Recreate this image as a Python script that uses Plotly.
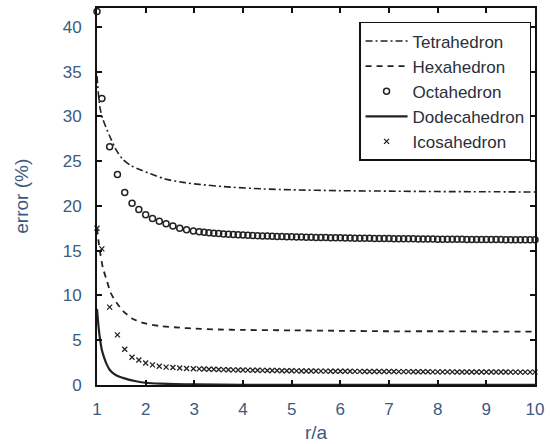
import plotly.graph_objects as go

# ---- data ----
tetra_x = [1.0, 1.06, 1.12, 1.26, 1.4, 1.53, 1.7, 1.9, 2.1, 2.4, 2.8, 3.1, 3.75, 4.4, 5, 6, 7, 8, 9, 10]
tetra_y = [34.5, 31.0, 29.7, 27.8, 26.2, 25.2, 24.5, 24.0, 23.6, 23.0, 22.6, 22.4, 22.1, 21.9, 21.8, 21.7, 21.65, 21.6, 21.58, 21.55]

hexa_x = [1.0, 1.05, 1.12, 1.2, 1.28, 1.4, 1.53, 1.73, 1.97, 2.28, 2.7, 3.0, 3.5, 4, 5, 6, 7, 8, 9, 10]
hexa_y = [17.5, 15.3, 13.1, 11.7, 10.3, 9.2, 8.3, 7.4, 6.9, 6.6, 6.4, 6.3, 6.2, 6.15, 6.1, 6.05, 6.0, 6.0, 5.97, 5.95]

dodeca_x = [1.0, 1.03, 1.06, 1.1, 1.15, 1.2, 1.26, 1.35, 1.45, 1.53, 1.65, 1.8, 2.0, 2.3, 2.6, 3.0, 4, 5, 6, 8, 10]
dodeca_y = [8.5, 6.6, 5.2, 3.9, 3.0, 2.3, 1.7, 1.25, 0.95, 0.8, 0.6, 0.42, 0.25, 0.15, 0.1, 0.06, 0.03, 0.02, 0.02, 0.02, 0.02]

marker_x = [1.0, 1.1, 1.26, 1.42, 1.57, 1.72, 1.86, 2.0, 2.14, 2.28, 2.42, 2.56, 2.7, 2.84, 2.98,
            3.1, 3.2, 3.3, 3.4, 3.5, 3.6, 3.7, 3.8, 3.9, 4.0,
            4.1, 4.2, 4.3, 4.4, 4.5, 4.6, 4.7, 4.8, 4.9, 5.0,
            5.1, 5.2, 5.3, 5.4, 5.5, 5.6, 5.7, 5.8, 5.9, 6.0,
            6.1, 6.2, 6.3, 6.4, 6.5, 6.6, 6.7, 6.8, 6.9, 7.0,
            7.1, 7.2, 7.3, 7.4, 7.5, 7.6, 7.7, 7.8, 7.9, 8.0,
            8.1, 8.2, 8.3, 8.4, 8.5, 8.6, 8.7, 8.8, 8.9, 9.0,
            9.1, 9.2, 9.3, 9.4, 9.5, 9.6, 9.7, 9.8, 9.9, 10.0]

octa_y = [41.7, 32.0, 26.6, 23.5, 21.5, 20.3, 19.6, 19.0, 18.6, 18.3, 18.0, 17.75, 17.5, 17.35, 17.2,
          17.10, 17.05, 17.00, 16.95, 16.91, 16.87, 16.83, 16.80, 16.77, 16.74,
          16.71, 16.69, 16.67, 16.65, 16.63, 16.61, 16.59, 16.58, 16.56, 16.55,
          16.53, 16.52, 16.51, 16.49, 16.48, 16.47, 16.46, 16.45, 16.44, 16.43,
          16.42, 16.41, 16.40, 16.39, 16.39, 16.38, 16.37, 16.36, 16.36, 16.35,
          16.34, 16.34, 16.33, 16.32, 16.32, 16.31, 16.31, 16.30, 16.30, 16.29,
          16.29, 16.28, 16.28, 16.27, 16.27, 16.26, 16.26, 16.26, 16.25, 16.25,
          16.24, 16.24, 16.24, 16.23, 16.23, 16.23, 16.22, 16.22, 16.22, 16.21]

icosa_y = [17.5, 15.2, 8.7, 5.6, 4.0, 3.1, 2.8, 2.45, 2.25, 2.1, 2.0, 1.95, 1.9, 1.85, 1.82,
           1.80, 1.78, 1.76, 1.75, 1.73, 1.72, 1.70, 1.69, 1.68, 1.67,
           1.66, 1.65, 1.64, 1.63, 1.62, 1.61, 1.61, 1.60, 1.59, 1.59,
           1.58, 1.57, 1.57, 1.56, 1.56, 1.55, 1.55, 1.54, 1.54, 1.53,
           1.53, 1.53, 1.52, 1.52, 1.51, 1.51, 1.51, 1.50, 1.50, 1.50,
           1.50, 1.49, 1.49, 1.49, 1.48, 1.48, 1.48, 1.48, 1.47, 1.47,
           1.47, 1.47, 1.47, 1.46, 1.46, 1.46, 1.46, 1.46, 1.45, 1.45,
           1.45, 1.45, 1.45, 1.45, 1.44, 1.44, 1.44, 1.44, 1.44, 1.44]

x_ticks = [1, 2, 3, 4, 5, 6, 7, 8, 9, 10]
y_ticks = [0, 5, 10, 15, 20, 25, 30, 35, 40]

FONT = "Liberation Sans, Arial, sans-serif"
TXT = "#3d5a80"
INK = "#222222"

fig = go.Figure()
fig.add_trace(go.Scatter(x=tetra_x, y=tetra_y, mode="lines", name="Tetrahedron",
                         line=dict(color=INK, width=1.6, dash="7px,3px,2px,3px", shape="spline", smoothing=0.8)))
fig.add_trace(go.Scatter(x=hexa_x, y=hexa_y, mode="lines", name="Hexahedron",
                         line=dict(color=INK, width=1.8, dash="6px,5px", shape="spline", smoothing=0.6)))
fig.add_trace(go.Scatter(x=marker_x, y=octa_y, mode="markers", name="Octahedron", cliponaxis=False,
                         marker=dict(symbol="circle-open", size=6, color=INK, line=dict(width=1.5, color=INK))))
fig.add_trace(go.Scatter(x=dodeca_x, y=dodeca_y, mode="lines", name="Dodecahedron",
                         line=dict(color=INK, width=2.2, shape="spline", smoothing=0.6)))
fig.add_trace(go.Scatter(x=marker_x, y=icosa_y, mode="markers", name="Icosahedron", cliponaxis=False,
                         marker=dict(symbol="x-thin", size=5, color=INK, line=dict(width=1.3, color=INK))))

axis_common = dict(showline=True, linecolor="#111111", linewidth=2, mirror="ticks",
                   ticks="inside", ticklen=5, tickwidth=1.5, tickcolor="#111111",
                   showgrid=False, zeroline=False, ticklabeloverflow="allow",
                   tickfont=dict(family=FONT, size=17, color=TXT))

fig.update_xaxes(range=[1, 10], tickvals=x_ticks, ticklabelstandoff=8, **axis_common)
fig.update_yaxes(range=[0, 42.1], tickvals=y_ticks, ticklabelstandoff=10, **axis_common)

fig.update_layout(
    width=550, height=444,
    margin=dict(l=97, r=9, t=6, b=59),
    paper_bgcolor="white", plot_bgcolor="white",
    font=dict(family=FONT, color=TXT),
    showlegend=True,
    legend=dict(x=0.991, y=0.963, xanchor="right", yanchor="top",
                bgcolor="white", bordercolor="#111111", borderwidth=1.5,
                font=dict(family=FONT, size=17, color="#2a2f3a"),
                itemwidth=42, tracegroupgap=0),
    annotations=[
        dict(text="error (%)", xref="paper", yref="paper", x=-0.173, y=0.50,
             textangle=-90, showarrow=False, font=dict(family=FONT, size=19, color=TXT),
             xanchor="center", yanchor="middle"),
        dict(text="r/a", xref="paper", yref="paper", x=0.5, y=-0.127,
             showarrow=False, font=dict(family=FONT, size=19, color=TXT),
             xanchor="center", yanchor="middle"),
    ],
)

fig.write_html("out.html")
